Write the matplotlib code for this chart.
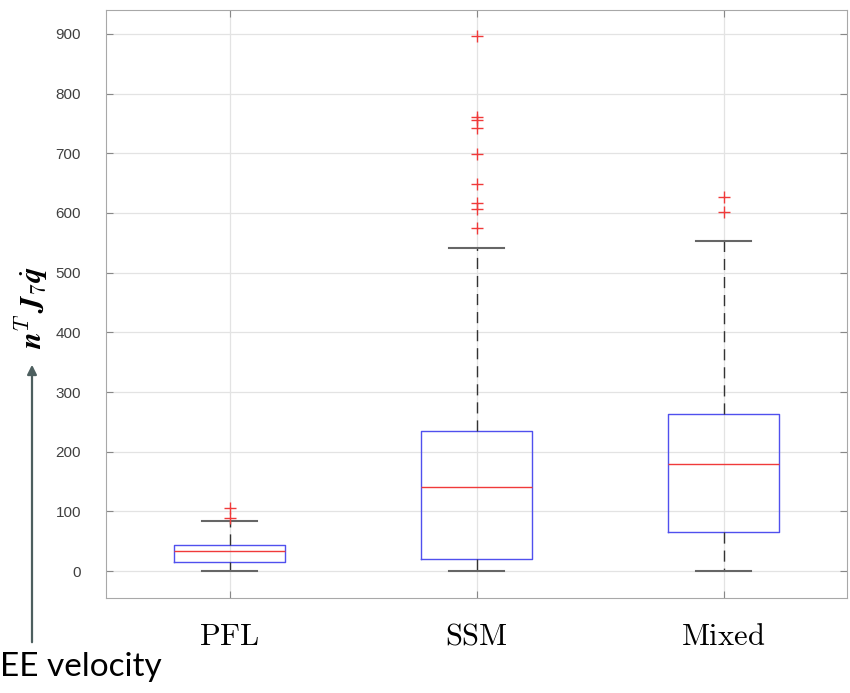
import matplotlib
matplotlib.use("Agg")
import matplotlib.pyplot as plt

# --- data -----------------------------------------------------------------
methods = ["PFL", "SSM", "Mixed"]
whisker_low = [0, 0, 0]
q1 = [15, 20, 65]
medians = [34, 141, 179]
q3 = [44, 234, 263]
whisker_high = [84, 541, 553]
outliers = [
    [89, 105],
    [575, 607, 617, 649, 699, 743, 756, 760, 897],
    [601, 627],
]
y_ticks = [0, 100, 200, 300, 400, 500, 600, 700, 800, 900]

plt.rcParams["mathtext.fontset"] = "cm"

stats = []
for i, name in enumerate(methods):
    stats.append({
        "label": name,
        "whislo": whisker_low[i],
        "q1": q1[i],
        "med": medians[i],
        "q3": q3[i],
        "whishi": whisker_high[i],
        "fliers": outliers[i],
    })

fig = plt.figure(figsize=(8.5, 6.93), dpi=100)
ax = fig.add_axes([0.1247, 0.1371, 0.8718, 0.8485])

ax.bxp(
    stats,
    positions=[1, 2, 3],
    widths=0.45,
    showfliers=True,
    boxprops=dict(color="#5050ee", linewidth=1.0),
    medianprops=dict(color="#f03a3a", linewidth=1.0),
    whiskerprops=dict(color="#333333", linewidth=1.0, linestyle=(0, (8, 5))),
    capprops=dict(color="#666666", linewidth=1.5),
    capwidths=0.22,
    flierprops=dict(marker="+", markeredgecolor="#f03a3a", markersize=8,
                    markeredgewidth=1.0, linestyle="none"),
)

ax.set_xlim(0.5, 3.5)
ax.set_ylim(-45, 940)
ax.set_yticks(y_ticks)
ax.set_xticks([1, 2, 3])
ax.set_xticklabels([r"$\mathrm{%s}$" % m for m in methods], fontsize=22)
ax.tick_params(axis="y", labelsize=11, labelcolor="#404040", color="#888888",
               direction="in", right=True, length=5, pad=18)
ax.tick_params(axis="x", color="#888888", direction="in", top=True,
               length=5, pad=17)
for lbl in ax.get_yticklabels():
    lbl.set_fontfamily("Liberation Sans")
ax.grid(True, color="#e3e3e3", linewidth=0.9)
ax.set_axisbelow(True)
for sp in ax.spines.values():
    sp.set_color("#a8a8a8")

# y label and annotation arrow
fig.text(31 / 850, 1 - 307 / 693,
         r"$\mathbfit{n}^{T}\,\mathbfit{J}_{7}\dot{\mathbfit{q}}$",
         rotation=90, ha="center", va="center", fontsize=22)
ax.annotate("", xy=(32 / 850, 1 - 362 / 693), xytext=(32 / 850, 1 - 645 / 693),
            xycoords="figure fraction", textcoords="figure fraction",
            arrowprops=dict(arrowstyle="-|>", color="#4d5f5f", lw=1.6,
                            mutation_scale=14))
fig.text(0.0, 1 - 667 / 693, "EE velocity", fontfamily="Lato",
         fontsize=24, ha="left", va="center", color="black")

fig.savefig("out.png", dpi=100)
